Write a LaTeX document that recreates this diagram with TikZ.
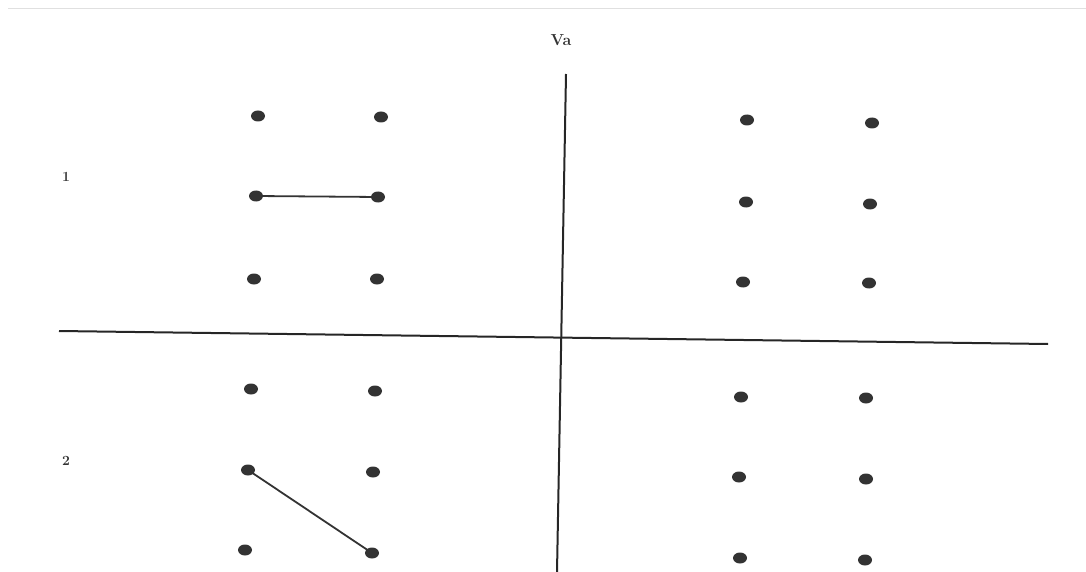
\documentclass[tikz,border=0pt]{standalone}
\usetikzlibrary{shapes.geometric}
\begin{document}
\begin{tikzpicture}[x=1pt,y=-1pt,
  dot/.style={ellipse,fill=black!80,inner sep=0pt,minimum width=14pt,minimum height=11pt},
  axis/.style={line width=2pt,draw=black!85},
  link/.style={line width=1.8pt,draw=black!80},
  lab/.style={font=\fontsize{14}{16}\selectfont\bfseries,text=black!80}]
\useasboundingbox (0,0) rectangle (1086,572);
\draw[black!12,line width=1pt] (8,9) -- (1086,9);
% axes
\coordinate (vt) at (566,74);
\coordinate (vb) at (557,572);
\coordinate (hl) at (59,331);
\coordinate (hr) at (1048,344);
\draw[axis] (vt) -- (vb);
\draw[axis] (hl) -- (hr);
% labels
\node[lab,font=\fontsize{16}{18}\selectfont\bfseries] (va) at (561,40) {Va};
\node[lab] (n1) at (66,177) {1};
\node[lab] (n2) at (66,461) {2};
% top-left
\node[dot] (a1) at (258,116) {};
\node[dot] (a2) at (381,117) {};
\node[dot] (a3) at (256,196) {};
\node[dot] (a4) at (378,197) {};
\node[dot] (a5) at (254,279) {};
\node[dot] (a6) at (377,279) {};
% top-right
\node[dot] (b1) at (747,120) {};
\node[dot] (b2) at (872,123) {};
\node[dot] (b3) at (746,202) {};
\node[dot] (b4) at (870,204) {};
\node[dot] (b5) at (743,282) {};
\node[dot] (b6) at (869,283) {};
% bottom-left
\node[dot] (c1) at (251,389) {};
\node[dot] (c2) at (375,391) {};
\node[dot] (c3) at (248,470) {};
\node[dot] (c4) at (373,472) {};
\node[dot] (c5) at (245,550) {};
\node[dot] (c6) at (372,553) {};
% bottom-right
\node[dot] (d1) at (741,397) {};
\node[dot] (d2) at (866,398) {};
\node[dot] (d3) at (739,477) {};
\node[dot] (d4) at (866,479) {};
\node[dot] (d5) at (740,558) {};
\node[dot] (d6) at (865,560) {};
% connectors
\draw[link] (a3.center) -- (a4.center);
\draw[link] (c3.center) -- (c6.center);
\end{tikzpicture}
\end{document}
